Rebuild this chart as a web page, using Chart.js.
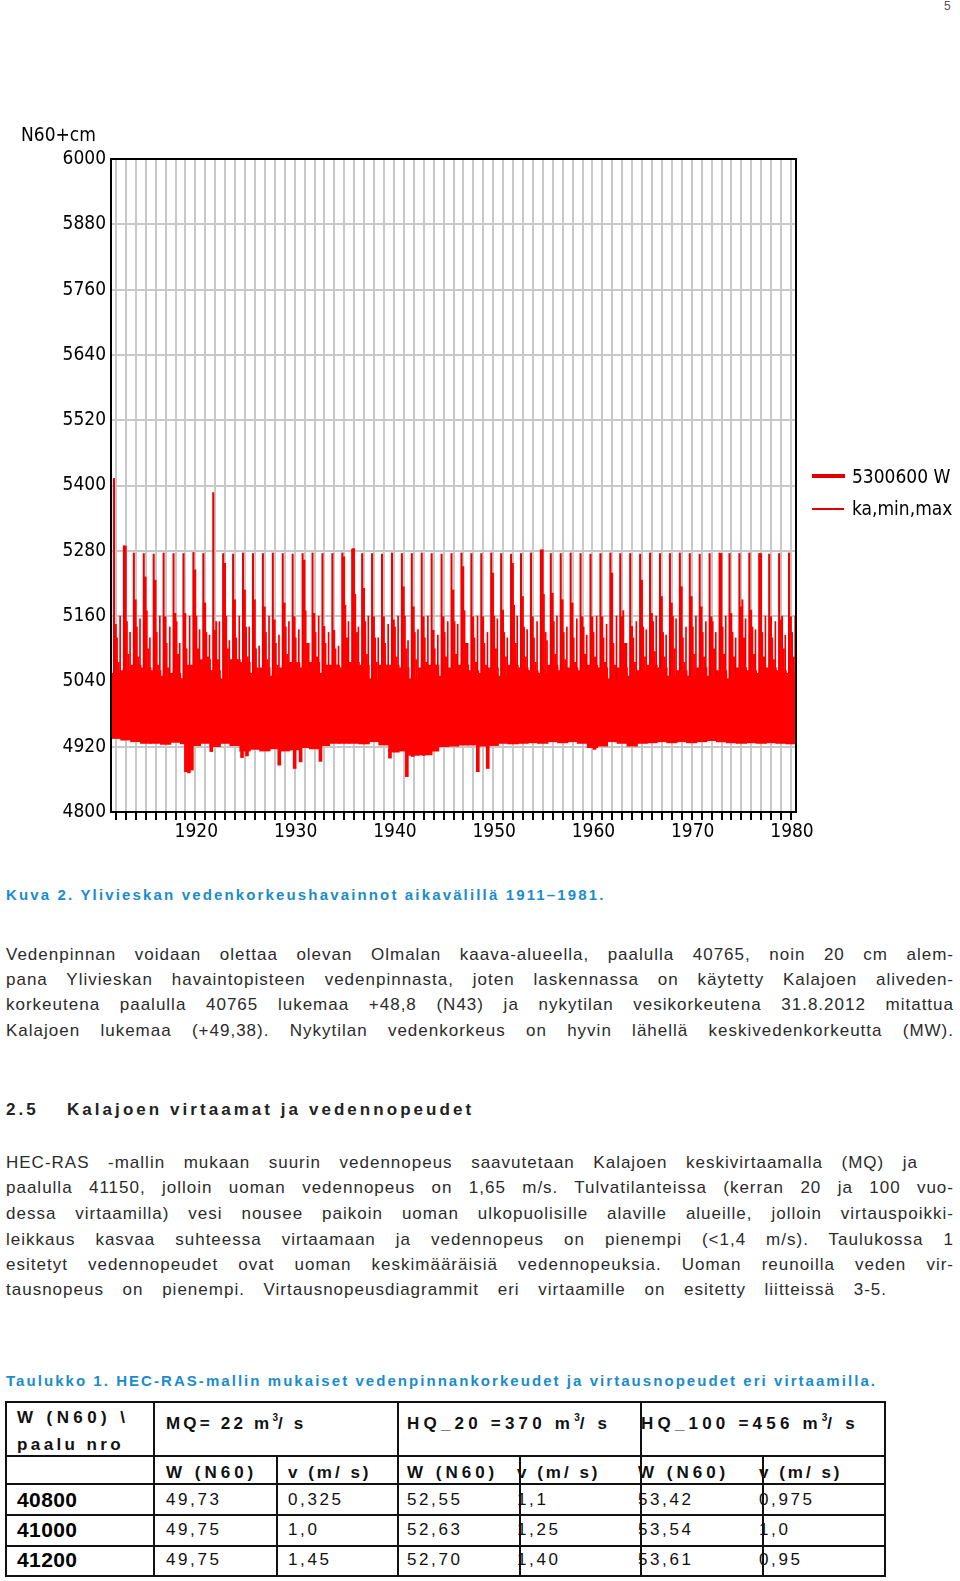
<!DOCTYPE html>
<html><head><meta charset="utf-8">
<script src="https://cdn.jsdelivr.net/npm/chart.js@4.4.1/dist/chart.umd.min.js"></script>
<style>
html,body{margin:0;padding:0;background:#fff;}
body{width:960px;height:1581px;position:relative;overflow:hidden;font-family:'Liberation Sans',Arial,sans-serif;color:#2b2b2b;}
#chartBox{position:absolute;left:0;top:0;width:960px;height:850px;}
.abs{position:absolute;white-space:nowrap;line-height:20px;}
.nar{font-family:'Liberation Sans Narrow','Arial Narrow','DejaVu Sans Condensed',sans-serif;color:#000;font-size:19px;}
.cap{font-weight:bold;color:#1a8ccc;font-size:15px;letter-spacing:2.15px;}
.p{position:absolute;left:6px;font-size:17px;letter-spacing:1px;line-height:20px;text-align:justify;text-align-last:justify;color:#2b2b2b;}
.h{font-weight:bold;font-size:17px;letter-spacing:3.05px;color:#222;}
.hl{position:absolute;background:#111;height:2px;}
.vl{position:absolute;background:#111;width:2px;}
.tb{font-weight:bold;font-size:17px;letter-spacing:4px;color:#111;}
.td{font-size:17px;letter-spacing:2.6px;color:#111;}
.tn{font-weight:bold;font-size:21px;letter-spacing:0.4px;color:#000;}
sup{font-size:10px;vertical-align:8px;letter-spacing:0;}
</style></head>
<body>
<div class="abs" style="left:944px;top:-4px;font-size:12px;color:#555;">5</div>
<div id="chartBox"><canvas id="c" width="960" height="850"></canvas></div>
<div class="abs nar" style="left:21px;top:124px;">N60+cm</div>
<div style="position:absolute;left:812px;top:474px;width:33px;height:4px;background:#e00000;"></div>
<div class="abs nar" style="left:852px;top:466px;">5300600 W</div>
<div style="position:absolute;left:812px;top:508px;width:32px;height:2px;background:#e00000;"></div>
<div class="abs nar" style="left:852px;top:498px;">ka,min,max</div>

<div class="abs cap" style="left:6px;top:885px;">Kuva 2. Ylivieskan vedenkorkeushavainnot aikavälillä 1911–1981.</div>

<div class="p" style="top:945px;width:948px;">Vedenpinnan voidaan olettaa olevan Olmalan kaava-alueella, paalulla 40765, noin 20 cm alem-</div>
<div class="p" style="top:970px;width:948px;">pana Ylivieskan havaintopisteen vedenpinnasta, joten laskennassa on käytetty Kalajoen aliveden-</div>
<div class="p" style="top:995px;width:948px;">korkeutena paalulla 40765 lukemaa +48,8 (N43) ja nykytilan vesikorkeutena 31.8.2012 mitattua</div>
<div class="p" style="top:1021px;width:948px;">Kalajoen lukemaa (+49,38). Nykytilan vedenkorkeus on hyvin lähellä keskivedenkorkeutta (MW).</div>

<div class="abs h" style="left:6px;top:1100px;">2.5</div>
<div class="abs h" style="left:67px;top:1100px;">Kalajoen virtaamat ja vedennopeudet</div>

<div class="p" style="top:1153px;width:912px;">HEC-RAS -mallin mukaan suurin vedennopeus saavutetaan Kalajoen keskivirtaamalla (MQ) ja</div>
<div class="p" style="top:1178px;width:948px;">paalulla 41150, jolloin uoman vedennopeus on 1,65 m/s. Tulvatilanteissa (kerran 20 ja 100 vuo-</div>
<div class="p" style="top:1204px;width:948px;">dessa virtaamilla) vesi nousee paikoin uoman ulkopuolisille alaville alueille, jolloin virtauspoikki-</div>
<div class="p" style="top:1230px;width:948px;">leikkaus kasvaa suhteessa virtaamaan ja vedennopeus on pienempi (&lt;1,4 m/s). Taulukossa 1</div>
<div class="p" style="top:1255px;width:948px;">esitetyt vedennopeudet ovat uoman keskimääräisiä vedennopeuksia. Uoman reunoilla veden vir-</div>
<div class="p" style="top:1280px;width:881px;">tausnopeus on pienempi. Virtausnopeusdiagrammit eri virtaamille on esitetty liitteissä 3-5.</div>

<div class="abs cap" style="left:6px;top:1371px;letter-spacing:2.05px;">Taulukko 1. HEC-RAS-mallin mukaiset vedenpinnankorkeudet ja virtausnopeudet eri virtaamilla.</div>

<!-- table grid -->
<div class="hl" style="left:5px;top:1401px;width:881px;"></div>
<div class="hl" style="left:5px;top:1455px;width:881px;"></div>
<div class="hl" style="left:5px;top:1483px;width:881px;"></div>
<div class="hl" style="left:5px;top:1514px;width:881px;"></div>
<div class="hl" style="left:5px;top:1545px;width:881px;"></div>
<div class="hl" style="left:5px;top:1575px;width:881px;"></div>
<div class="vl" style="left:5px;top:1401px;height:176px;"></div>
<div class="vl" style="left:153px;top:1401px;height:176px;"></div>
<div class="vl" style="left:276px;top:1455px;height:122px;"></div>
<div class="vl" style="left:397px;top:1401px;height:176px;"></div>
<div class="vl" style="left:519px;top:1455px;height:122px;"></div>
<div class="vl" style="left:640px;top:1401px;height:176px;"></div>
<div class="vl" style="left:762px;top:1455px;height:122px;"></div>
<div class="vl" style="left:884px;top:1401px;height:176px;"></div>

<div class="abs tb" style="left:17px;top:1408px;letter-spacing:4.4px;">W (N60) \</div>
<div class="abs tb" style="left:17px;top:1435px;letter-spacing:3.4px;">paalu nro</div>
<div class="abs tb" style="left:166px;top:1408px;letter-spacing:3.2px;">MQ= 22 m<sup>3</sup>/ s</div>
<div class="abs tb" style="left:407px;top:1408px;letter-spacing:4.2px;">HQ_20 =370 m<sup>3</sup>/ s</div>
<div class="abs tb" style="left:641px;top:1408px;letter-spacing:4.2px;">HQ_100 =456 m<sup>3</sup>/ s</div>

<div class="abs tb" style="left:166px;top:1463px;">W (N60)</div>
<div class="abs tb" style="left:288px;top:1463px;letter-spacing:3px;">v (m/ s)</div>
<div class="abs tb" style="left:407px;top:1463px;">W (N60)</div>
<div class="abs tb" style="left:517px;top:1463px;letter-spacing:3px;">v (m/ s)</div>
<div class="abs tb" style="left:638px;top:1463px;">W (N60)</div>
<div class="abs tb" style="left:759px;top:1463px;letter-spacing:3px;">v (m/ s)</div>

<div class="abs tn" style="left:17px;top:1490px;">40800</div>
<div class="abs td" style="left:166px;top:1490px;">49,73</div>
<div class="abs td" style="left:288px;top:1490px;">0,325</div>
<div class="abs td" style="left:407px;top:1490px;">52,55</div>
<div class="abs td" style="left:517px;top:1490px;">1,1</div>
<div class="abs td" style="left:638px;top:1490px;">53,42</div>
<div class="abs td" style="left:759px;top:1490px;">0,975</div>

<div class="abs tn" style="left:17px;top:1520px;">41000</div>
<div class="abs td" style="left:166px;top:1520px;">49,75</div>
<div class="abs td" style="left:288px;top:1520px;">1,0</div>
<div class="abs td" style="left:407px;top:1520px;">52,63</div>
<div class="abs td" style="left:517px;top:1520px;">1,25</div>
<div class="abs td" style="left:638px;top:1520px;">53,54</div>
<div class="abs td" style="left:759px;top:1520px;">1,0</div>

<div class="abs tn" style="left:17px;top:1550px;">41200</div>
<div class="abs td" style="left:166px;top:1550px;">49,75</div>
<div class="abs td" style="left:288px;top:1550px;">1,45</div>
<div class="abs td" style="left:407px;top:1550px;">52,70</div>
<div class="abs td" style="left:517px;top:1550px;">1,40</div>
<div class="abs td" style="left:638px;top:1550px;">53,61</div>
<div class="abs td" style="left:759px;top:1550px;">0,95</div>

<script>
// ---------- data (N60 + cm) ----------
const years = [1911,1912,1913,1914,1915,1916,1917,1918,1919,1920,
  1921,1922,1923,1924,1925,1926,1927,1928,1929,1930,
  1931,1932,1933,1934,1935,1936,1937,1938,1939,1940,
  1941,1942,1943,1944,1945,1946,1947,1948,1949,1950,
  1951,1952,1953,1954,1955,1956,1957,1958,1959,1960,
  1961,1962,1963,1964,1965,1966,1967,1968,1969,1970,
  1971,1972,1973,1974,1975,1976,1977,1978,1979];

// annual maximum (thin spike)
const maxW = [5413,5289,5276,5275,5274,5276,5275,5275,5277,5275,
  5387,5275,5274,5276,5275,5275,5276,5275,5274,5275,
  5276,5275,5275,5276,5283,5275,5275,5274,5276,5275,
  5275,5276,5275,5274,5275,5276,5275,5275,5276,5275,
  5274,5275,5276,5281,5275,5275,5276,5275,5274,5275,
  5276,5275,5275,5274,5276,5275,5275,5276,5275,5274,
  5275,5276,5275,5275,5276,5275,5274,5275,5276];

// spring flood level
const floodW = [5145,5289,5190,5232,5226,5159,5165,5165,5245,5184,
  5134,5257,5190,5208,5190,5177,5153,5184,5159,5263,
  5165,5141,5134,5269,5284,5211,5159,5159,5153,5214,
  5177,5159,5134,5159,5208,5251,5159,5159,5239,5171,
  5257,5196,5159,5282,5202,5190,5184,5159,5159,5159,
  5239,5159,5141,5226,5165,5196,5184,5214,5196,5177,
  5159,5275,5165,5177,5171,5275,5159,5153,5159];

// summer high water
const summerW = [5120,5150,5140,5170,5130,5110,5150,5100,5160,5130,
  5150,5160,5120,5140,5100,5130,5110,5140,5120,5170,
  5130,5110,5100,5180,5200,5150,5120,5110,5140,5160,
  5130,5120,5100,5130,5150,5170,5120,5110,5160,5130,
  5180,5140,5120,5200,5150,5130,5120,5140,5130,5120,
  5110,5170,5120,5140,5150,5130,5160,5120,5140,5130,
  5150,5140,5130,5190,5140,5130,5120,5160,5130];

// autumn high water
const autumnW = [5075,5090,5085,5100,5070,5065,5090,5070,5100,5085,
  5080,5100,5075,5085,5065,5080,5070,5090,5075,5110,
  5085,5070,5065,5120,5130,5090,5075,5070,5085,5100,
  5080,5075,5065,5085,5090,5110,5075,5070,5100,5085,
  5110,5085,5075,5130,5090,5080,5075,5090,5085,5075,
  5070,5110,5075,5085,5095,5085,5100,5075,5090,5085,
  5100,5090,5085,5120,5090,5085,5080,5100,5085];

// late-year high water
const lateW = [5160,5130,5155,5120,5160,5140,5110,5160,5135,5125,
  5150,5115,5160,5140,5105,5160,5125,5150,5135,5110,
  5160,5130,5105,5150,5140,5160,5120,5145,5160,5115,
  5135,5160,5125,5150,5145,5110,5160,5130,5155,5120,
  5160,5135,5150,5115,5160,5140,5155,5125,5160,5145,
  5160,5110,5150,5135,5160,5125,5155,5140,5160,5150,
  5130,5160,5120,5155,5135,5160,5150,5125,5160];

// mean band upper level
const bodyW = [5055,5060,5070,5065,5060,5050,5055,5045,5070,5080,
  5060,5045,5080,5075,5055,5065,5050,5065,5075,5065,
  5075,5055,5070,5065,5075,5070,5045,5070,5070,5065,
  5045,5065,5070,5050,5065,5070,5060,5055,5065,5050,
  5070,5065,5060,5055,5070,5060,5065,5060,5070,5065,
  5045,5065,5050,5060,5070,5065,5050,5060,5050,5065,
  5050,5060,5045,5065,5060,5055,5065,5060,5055];

// annual low water
const lowW = [4935,4932,4929,4926,4926,4924,4928,4925,4922,4926,
  4920,4926,4922,4912,4915,4912,4916,4912,4914,4918,
  4916,4922,4926,4926,4926,4925,4929,4923,4910,4912,
  4904,4905,4912,4920,4921,4923,4923,4921,4922,4926,
  4925,4926,4927,4926,4929,4927,4929,4926,4918,4921,
  4929,4926,4921,4926,4927,4929,4927,4929,4927,4929,
  4931,4929,4927,4926,4927,4926,4927,4926,4925];

// exceptional low-water episodes
const dipDates = [1918.55,1918.85,1919.15,1921.1,1924.2,1924.7,1927.95,1929.5,1930.1,1932.1,1939.1,1940.8,1941.4,1942.5,1943.2,1947.95,1948.95,1959.7];
const dipW = [4874,4872,4877,4911,4900,4903,4886,4880,4892,4893,4899,4865,4902,4904,4905,4874,4880,4915];

const yTicks = [4800,4920,5040,5160,5280,5400,5520,5640,5760,5880,6000];
const xLabels = [1920,1930,1940,1950,1960,1970,1980];

// ---------- chart ----------
const RED = '#ff0000';
const NARROW = "'Liberation Sans Narrow','Arial Narrow','DejaVu Sans Condensed',sans-serif";
function band(offset, tops, lows){ return years.map((y,i)=>({x:y+offset, y:[lows[i], tops[i]]})); }
function ds(data, thick, color){
  return {data, barThickness:thick, backgroundColor:color||RED, borderWidth:0, grouped:false};
}
const dipData = dipDates.map((d,i)=>({x:d, y:[dipW[i], lowW[years.indexOf(Math.floor(d))]+6]}));

const frame = {id:'frame', afterDraw(c){
  const {ctx, chartArea:a} = c; ctx.save(); ctx.strokeStyle='#000'; ctx.lineWidth=2;
  ctx.strokeRect(a.left, a.top, a.right-a.left, a.bottom-a.top); ctx.restore(); }};

new Chart(document.getElementById('c'), {
  type:'bar',
  data:{datasets:[
    ds(band(0.30, maxW, bodyW), 1.4, '#ee0000'),
    ds(band(0.42, floodW, bodyW), 2.6),
    ds(band(0.60, summerW, bodyW), 1.3),
    ds(band(0.76, autumnW, bodyW), 1.6),
    ds(band(0.92, lateW, bodyW), 1.0, '#ee0000'),
    ds(band(0.50, bodyW, lowW), 10.6),
    ds(dipData, 3)
  ]},
  plugins:[frame],
  options:{
    responsive:false, animation:false, devicePixelRatio:1,
    layout:{padding:{left:0, top:159, right:164, bottom:0}},
    plugins:{legend:{display:false}, tooltip:{enabled:false}},
    scales:{
      x:{type:'linear', min:1911, max:1980, offset:false,
        afterFit(s){ s.height = 38; },
        grid:{color:'#c8c8c8', lineWidth:2, tickColor:'#000', tickLength:8, tickWidth:2, drawOnChartArea:true},
        border:{color:'#000', width:2},
        ticks:{stepSize:1, autoSkip:false, maxRotation:0, padding:1, labelOffset:-4, color:'#000',
          font:{family:NARROW, size:19},
          callback:(v)=> xLabels.includes(v) ? String(v) : ''}
      },
      y:{type:'linear', min:4800, max:6000,
        afterFit(s){ s.width = 111; },
        afterBuildTicks(s){ s.ticks = yTicks.map(v=>({value:v})); },
        grid:{color:'#c8c8c8', lineWidth:2, drawTicks:false},
        border:{color:'#000', width:2},
        ticks:{padding:5, color:'#000', font:{family:NARROW, size:19},
          callback:(v)=> String(v)}
      }
    }
  }
});
</script>
</body></html>
